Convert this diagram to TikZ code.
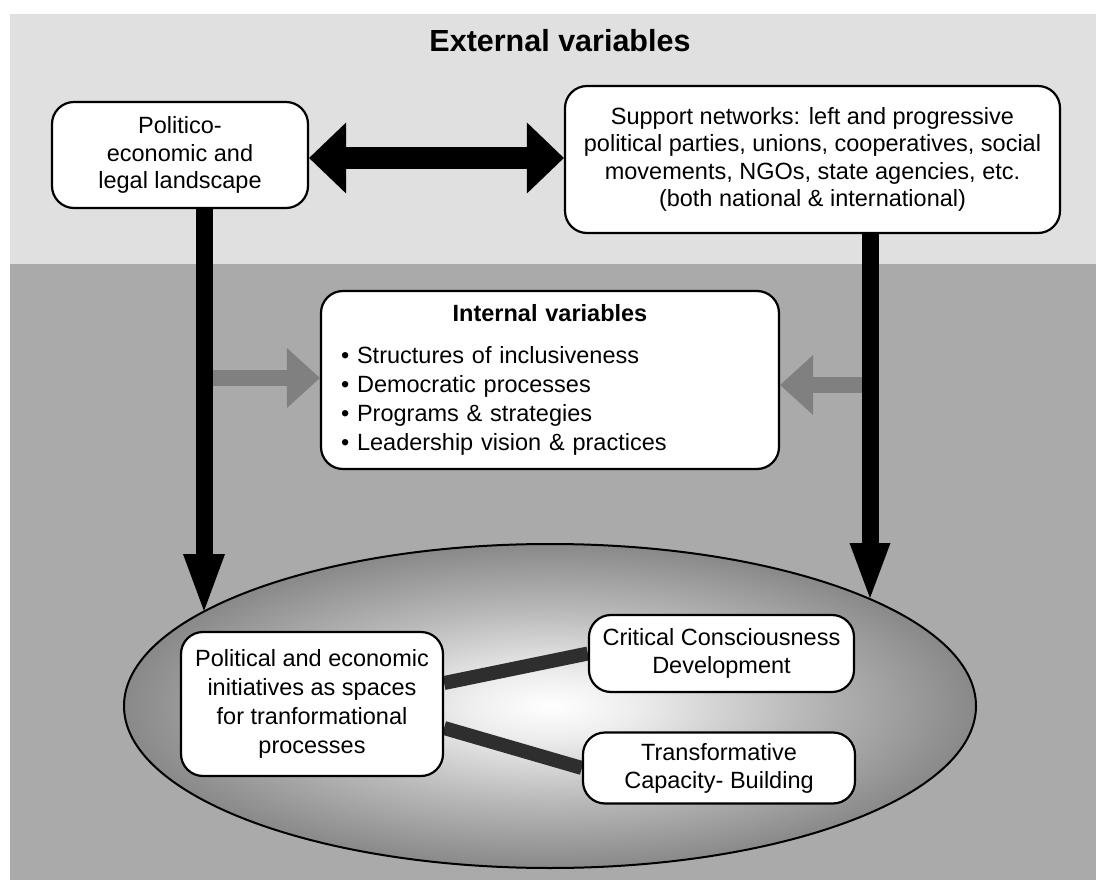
\documentclass[tikz,border=0pt]{standalone}
\usepackage{fontspec}
\setmainfont{Liberation Sans}
\usetikzlibrary{arrows.meta,shapes.geometric}
\definecolor{outerband}{HTML}{E0E0E0}
\definecolor{innerband}{HTML}{AAAAAA}
\definecolor{pushgray}{HTML}{808080}
\definecolor{linkgray}{HTML}{2E2E2E}
\pgfdeclareradialshading{spotlight}{\pgfpointorigin}{color(0bp)=(white); color(5bp)=(white!93!black); color(15bp)=(white!72!black); color(27bp)=(white!50!black); color(50bp)=(white!50!black)}
\pgfdeclarelayer{back}
\pgfdeclarelayer{mid}
\pgfsetlayers{back,mid,main}

\begin{document}
\begin{tikzpicture}[x=1pt,y=-1pt,
		box/.style={draw, line width=2.2pt, fill=white, rounded corners=22pt, align=center, inner sep=0pt,
			font=\fontsize{23.5pt}{27.5pt}\selectfont},
		heavy/.style={draw=black, line width=22pt},
		push/.style={draw=pushgray, line width=16pt, -{Triangle[width=60pt,length=33pt,line width=0pt]}},
		link/.style={draw=linkgray, line width=14pt}]
			\useasboundingbox (0,0) rectangle (1096,880);

			% Bands and the space of the initiatives
			\begin{pgfonlayer}{back}
				\fill[outerband] (10,14) rectangle (1096,264);
				\fill[innerband] (10,264) rectangle (1096,880);
				\node[ellipse, draw, line width=2pt, shade, shading=spotlight, minimum width=852pt, minimum height=324pt, inner sep=0pt] (space) at (550,706) {};
			\end{pgfonlayer}

			% External variables
			\node[font=\fontsize{30.5pt}{36pt}\selectfont\bfseries] (ext) at (560,41) {External variables};
			\node[box, minimum width=256pt, minimum height=106pt] (pol) at (180,155) {Politico-\\economic and\\legal landscape};
			\node[box, minimum width=495pt, minimum height=147pt] (sup) at (812.5,159.5) {Support networks: left and progressive\\political parties, unions, cooperatives, social\\movements, NGOs, state agencies, etc.\\(both national \& international)};

			% Internal variables
			\node[box, minimum width=458pt, minimum height=178pt, text width=418pt, align=left,
				font=\fontsize{23.5pt}{29pt}\selectfont] (int) at (550,380)
				{{\centering\bfseries Internal variables\par}\vspace{13pt}%
				• Structures of inclusiveness\\• Democratic processes\\• Programs \& strategies\\• Leadership vision \& practices};

			% Transformational processes
			\node[box, font=\fontsize{23.5pt}{29pt}\selectfont, minimum width=262pt, minimum height=144pt] (init) at (312,704) {Political and economic\\initiatives as spaces\\for tranformational\\processes};
			\node[box, font=\fontsize{23.5pt}{28pt}\selectfont, minimum width=265pt, minimum height=77pt] (crit) at (721.5,653.5) {Critical Consciousness\\Development};
			\node[box, font=\fontsize{23.5pt}{28pt}\selectfont, minimum width=272pt, minimum height=71pt] (trans) at (719,768) {Transformative\\Capacity- Building};

			\begin{pgfonlayer}{mid}
				\draw[link] ([yshift=21pt]init.east) -- (crit.west);
				\draw[link] ([yshift=-24pt]init.east) -- (trans.west);
			\end{pgfonlayer}

			% Arrows
			\coordinate (lhit) at (204,611);
			\coordinate (rhit) at (870,598);
			\coordinate (lfeed) at (204,378);
			\coordinate (rfeed) at (870,385);
			\draw[push] (lfeed) -- (lfeed -| int.west);
			\draw[push] (rfeed) -- (rfeed -| int.east);
			\draw[heavy, {Triangle[width=71pt,length=37pt,line width=0pt]}-{Triangle[width=71pt,length=37pt,line width=0pt]}] ([yshift=-3pt]pol.east) -- ([yshift=-3pt]pol.east -| sup.west);
			\draw[heavy, line width=17pt, -{Triangle[width=42pt,length=57pt,line width=0pt]}] (pol.south -| lhit) -- (lhit);
			\draw[heavy, line width=17pt, -{Triangle[width=41pt,length=55pt,line width=0pt]}] (sup.south -| rhit) -- (rhit);
		\end{tikzpicture}
\end{document}
